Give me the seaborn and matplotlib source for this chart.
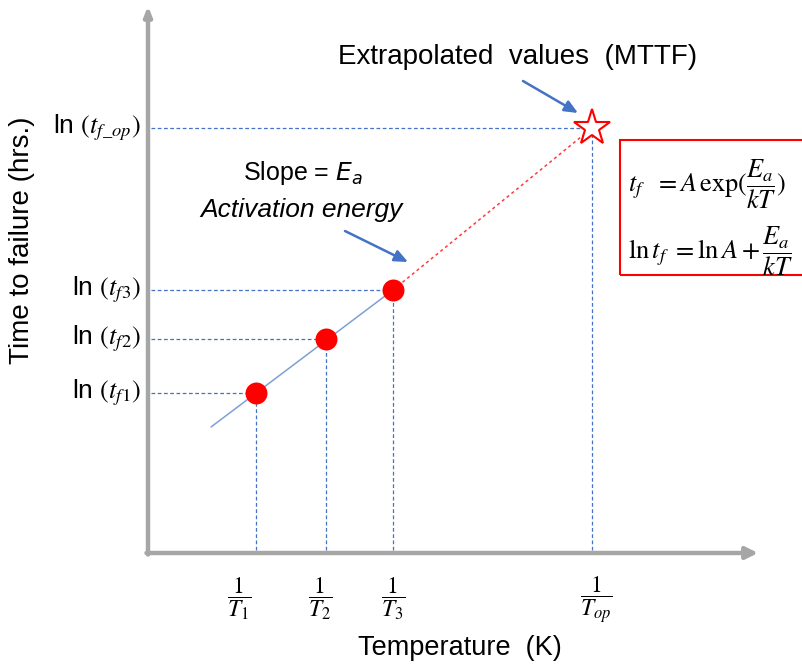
import matplotlib
matplotlib.use("Agg")
import matplotlib.pyplot as plt
import seaborn as sns
import pandas as pd
from matplotlib.patches import Rectangle

# Measured points: inverse temperature (1/T) vs ln(time to failure)
inv_temp = [1.08, 1.78, 2.45]
ln_tf = [1.60, 2.14, 2.63]
point_labels = [r"ln $(t_{f1})$", r"ln $(t_{f2})$", r"ln $(t_{f3})$"]
x_tick_labels = [r"$\dfrac{1}{T_1}$", r"$\dfrac{1}{T_2}$", r"$\dfrac{1}{T_3}$"]

# Extrapolated operating condition (MTTF)
inv_temp_op = 4.44
ln_tf_op = 4.25
op_label = r"ln $(t_{f\_op})$"
op_tick_label = r"$\dfrac{1}{T_{op}}$"

# Fitted line through the measured points, and its extrapolation
fit_x = [0.63, 2.45]
fit_y = [1.26, 2.63]
extra_x = [2.45, 4.44]
extra_y = [2.63, 4.25]

sns.set_style("white")
plt.rcParams["font.family"] = ["Liberation Sans", "DejaVu Sans"]
plt.rcParams["mathtext.fontset"] = "stix"
plt.rcParams["text.color"] = "black"

W, H = 802, 669
fig = plt.figure(figsize=(W / 100, H / 100), dpi=100)
x0, y0 = 148, 553
xmax, ymax = 6.54, 5.45
ax = fig.add_axes([x0 / W, (H - y0) / H, (W - x0) / W, (y0 - 8) / H])
ax.set_xlim(0, xmax)
ax.set_ylim(0, ymax)
for s in ax.spines.values():
    s.set_visible(False)
ax.set_xticks([])
ax.set_yticks([])

axis_gray = "#A6A6A6"
guide_blue = "#4472C4"

# Axes with arrow heads
ax.annotate("", xy=(6.10, 0), xytext=(-0.015, 0),
            arrowprops=dict(arrowstyle="-|>,head_length=0.7,head_width=0.35",
                            color=axis_gray, lw=3.2, shrinkA=0, shrinkB=0),
            annotation_clip=False)
ax.annotate("", xy=(0, 5.47), xytext=(0, -0.015),
            arrowprops=dict(arrowstyle="-|>,head_length=0.55,head_width=0.22",
                            color=axis_gray, lw=3.2, shrinkA=0, shrinkB=0),
            annotation_clip=False)

# Dashed guide lines from each point to both axes
for xv, yv in zip(inv_temp + [inv_temp_op], ln_tf + [ln_tf_op]):
    ax.plot([0.03, xv], [yv, yv], color=guide_blue, lw=0.9, ls=(0, (3, 2)))
    ax.plot([xv, xv], [0.03, yv], color=guide_blue, lw=0.9, ls=(0, (3, 2)))

# Fitted line and extrapolation
fit_df = pd.DataFrame({"x": fit_x, "y": fit_y})
extra_df = pd.DataFrame({"x": extra_x, "y": extra_y})
sns.lineplot(data=fit_df, x="x", y="y", ax=ax, color="#7F9FD8", lw=1.1)
sns.lineplot(data=extra_df, x="x", y="y", ax=ax, color="#FF3B3B", lw=1.1,
             linestyle=(0, (2, 2)))

# Measured points
pts = pd.DataFrame({"x": inv_temp, "y": ln_tf})
sns.scatterplot(data=pts, x="x", y="y", ax=ax, s=250, color="#FF0000",
                edgecolor="#FF0000", linewidth=0, zorder=5)
# Extrapolated MTTF point
ax.plot([inv_temp_op], [ln_tf_op], marker="*", markersize=27,
        markerfacecolor="white", markeredgecolor="#FF0000",
        markeredgewidth=1.5, zorder=6, clip_on=False)
ax.set_xlabel("")
ax.set_ylabel("")

# Y labels for each level
for yv, lab in zip(ln_tf + [ln_tf_op], point_labels + [op_label]):
    ax.text(-0.07, yv, lab, ha="right", va="center", fontsize=19)

# X labels (1/T) under the axis
label_dx = [-0.17, -0.06, 0.0]
for xv, dx, lab in zip(inv_temp, label_dx, x_tick_labels):
    ax.text(xv + dx, -0.22, lab, ha="center", va="top", fontsize=17)
ax.text(inv_temp_op + 0.04, -0.22, op_tick_label, ha="center", va="top",
        fontsize=17)

# Axis titles
ax.text(3.12, -0.95, "Temperature  (K)", ha="center", va="center", fontsize=19.5)
fig.text(22 / W, 1 - 240 / H, "Time to failure (hrs.)", rotation=90,
         ha="center", va="center", fontsize=20)

# Annotations
ax.text(3.70, 4.96, "Extrapolated  values  (MTTF)", ha="center", va="center",
        fontsize=20)
ax.annotate("", xy=(4.30, 4.40), xytext=(3.75, 4.72),
            arrowprops=dict(arrowstyle="-|>,head_length=0.8,head_width=0.35",
                            color=guide_blue, lw=1.8, shrinkA=0, shrinkB=0))
ax.text(1.55, 3.80, r"Slope = $E_a$", ha="center", va="center",
        fontsize=18, math_fontfamily="dejavusans")
ax.text(1.53, 3.43, "Activation energy", ha="center", va="center",
        fontsize=19, style="italic")
ax.annotate("", xy=(2.60, 2.91), xytext=(1.97, 3.22),
            arrowprops=dict(arrowstyle="-|>,head_length=0.8,head_width=0.35",
                            color=guide_blue, lw=1.8, shrinkA=0, shrinkB=0))

# Equation box
box = Rectangle((4.72, 2.78), 2.0, 1.35, fill=False, edgecolor="#FF0000",
                lw=1.5, clip_on=False)
ax.add_patch(box)
ax.text(4.80, 3.68, r"$t_f\ \ = A\,\exp(\dfrac{E_a}{kT})$", ha="left",
        va="center", fontsize=19)
ax.text(4.80, 3.01, r"$\ln t_f\ = \ln A + \dfrac{E_a}{kT}$", ha="left",
        va="center", fontsize=19)

fig.savefig("out.png", dpi=100)
